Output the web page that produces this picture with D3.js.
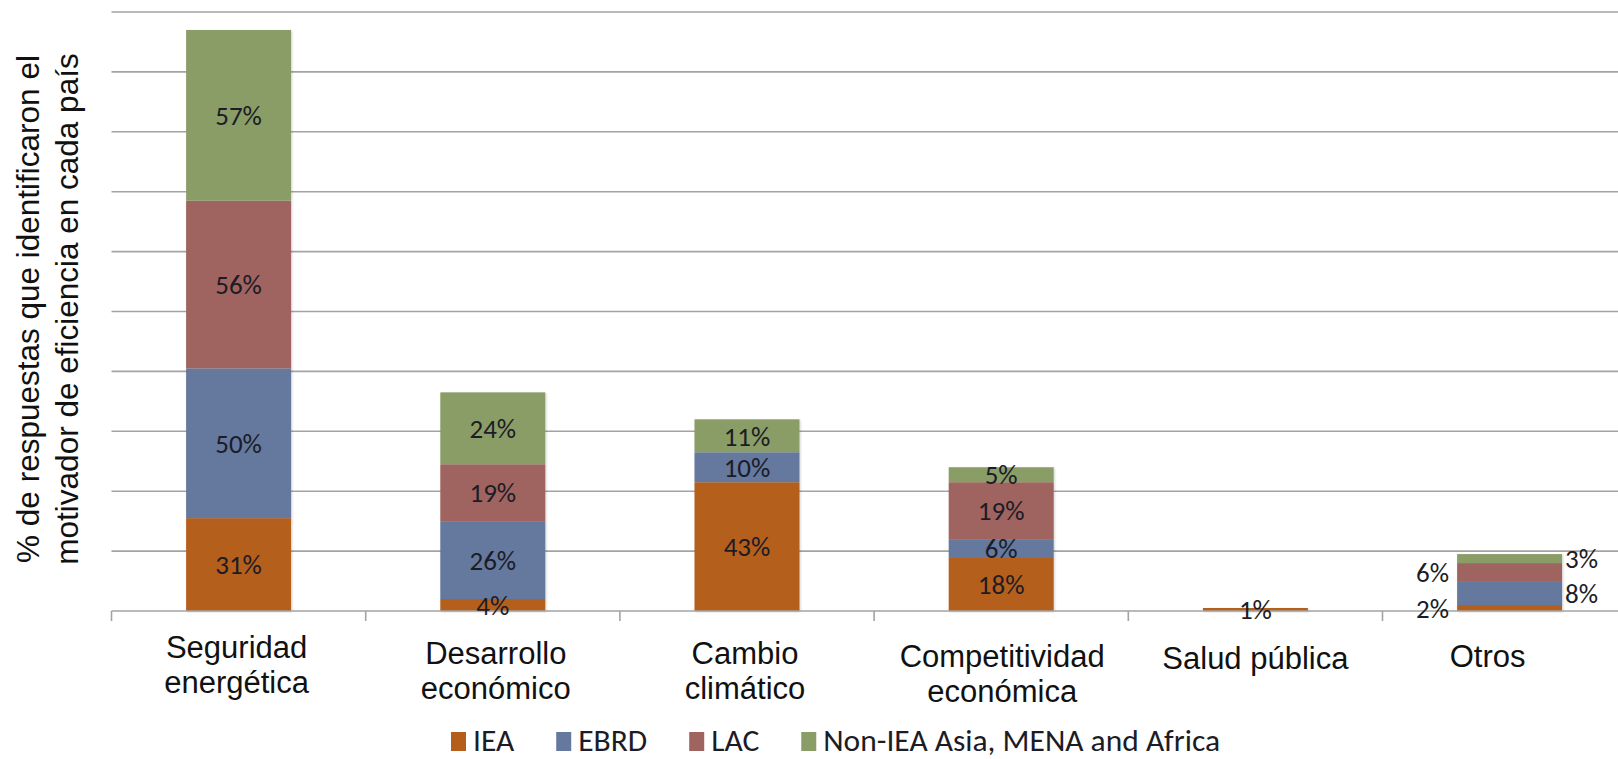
<!DOCTYPE html>
<html lang="es">
<head>
<meta charset="utf-8">
<title>Motivadores de eficiencia energética</title>
<script src="https://cdn.jsdelivr.net/npm/d3@7"></script>
<style>
  html, body { margin: 0; padding: 0; background: #fff; }
  svg { display: block; }
</style>
</head>
<body>
<svg id="chart" width="1618" height="759"></svg>
<script>
// Categories (motivators), each split into the lines shown under the axis
const categories = ["Seguridad energética", "Desarrollo económico", "Cambio climático",
                    "Competitividad económica", "Salud pública", "Otros"];
const categoryLines = [["Seguridad", "energética"], ["Desarrollo", "económico"],
                       ["Cambio", "climático"], ["Competitividad", "económica"],
                       ["Salud pública"], ["Otros"]];

// Share of responses per region group (%)
const seriesNames = ["IEA", "EBRD", "LAC", "Non-IEA Asia, MENA and Africa"];
const iea    = [31,  4, 43, 18, 1, 2];
const ebrd   = [50, 26, 10,  6, 0, 8];
const lac    = [56, 19,  0, 19, 0, 6];
const nonIea = [57, 24, 11,  5, 0, 3];

// Gridline values on the (unlabelled) value axis
const yTicks = [0, 20, 40, 60, 80, 100, 120, 140, 160, 180, 200];

// ---- styling / layout ----
const colors = ["#b55e1c", "#65789e", "#9f6460", "#8a9d66"];
const labelFont = "Carlito, Lato, 'Open Sans', sans-serif";
const axisFont = "'Liberation Sans', Arial, sans-serif";
const catLabelShift = [  // dx, dy of each category label below the baseline
  [-2, 47], [3, 53], [-2, 53], [1, 56], [0, 58], [-22, 56]
];

const svg = d3.select("#chart");
const W = 1618, H = 759;
const x0 = 111.5, x1 = 1636.7, yTop = 12, yBase = 611;

const rows = categories.map((c, i) => ({
  cat: c, "IEA": iea[i], "EBRD": ebrd[i], "LAC": lac[i],
  "Non-IEA Asia, MENA and Africa": nonIea[i]
}));

const x = d3.scaleBand().domain(categories).range([x0, x1])
  .paddingInner(0.587).paddingOuter(0.587 / 2);
const y = d3.scaleLinear().domain([0, 200]).range([yBase, yTop]);
const color = d3.scaleOrdinal().domain(seriesNames).range(colors);

const stacked = d3.stack().keys(seriesNames)(rows);

// gridlines
svg.append("g")
  .selectAll("line").data(yTicks.filter(v => v > 0)).join("line")
  .attr("x1", x0).attr("x2", W)
  .attr("y1", d => y(d)).attr("y2", d => y(d))
  .attr("stroke", "#a3a3a3").attr("stroke-width", 1.6);

// soft shadow under the bars
const defs = svg.append("defs");
const f = defs.append("filter").attr("id", "shadow")
  .attr("x", "-10%").attr("y", "-10%").attr("width", "125%").attr("height", "125%");
f.append("feDropShadow").attr("dx", 1).attr("dy", 1).attr("stdDeviation", 1)
  .attr("flood-color", "#000").attr("flood-opacity", 0.18);

// stacked bars
const barsG = svg.append("g").attr("filter", "url(#shadow)");
barsG.selectAll("g").data(stacked).join("g")
  .attr("fill", d => color(d.key))
  .selectAll("rect").data(d => d.filter(s => s[1] - s[0] > 0)).join("rect")
  .attr("x", d => x(d.data.cat))
  .attr("width", x.bandwidth())
  .attr("y", d => y(d[1]))
  .attr("height", d => y(d[0]) - y(d[1]));

// category axis (baseline + tick marks between bands)
const axis = d3.axisBottom(x).tickSize(0).tickFormat("");
const axG = svg.append("g").attr("transform", `translate(0,${yBase})`).call(axis);
axG.select(".domain").attr("stroke", "#a3a3a3").attr("stroke-width", 1.6)
  .attr("d", `M${x0},0H${W}`);
const bounds = d3.range(categories.length + 1).map(i => x0 + i * x.step());
axG.selectAll(".sep").data(bounds).join("line").attr("class", "sep")
  .attr("x1", d => d).attr("x2", d => d).attr("y1", 0).attr("y2", 10)
  .attr("stroke", "#a3a3a3").attr("stroke-width", 1.6);

// category labels
const catG = svg.append("g");
categoryLines.forEach((lines, i) => {
  const cx = x(categories[i]) + x.bandwidth() / 2 + catLabelShift[i][0];
  const t = catG.append("text")
    .attr("x", cx).attr("y", yBase + catLabelShift[i][1])
    .attr("text-anchor", "middle")
    .attr("font-family", axisFont).attr("font-size", 31).attr("fill", "#111");
  lines.forEach((ln, k) => {
    t.append("tspan").attr("x", cx).attr("dy", k === 0 ? 0 : 35).text(ln);
  });
});

// value labels
const lastCat = categories[categories.length - 1];
const labG = svg.append("g").attr("font-family", labelFont).attr("font-size", 27)
  .attr("fill", "#1c1c26");
stacked.forEach((layer, si) => {
  layer.forEach(seg => {
    const v = seg[1] - seg[0];
    if (v <= 0) return;
    const cy = (y(seg[0]) + y(seg[1])) / 2;
    let lx = x(seg.data.cat) + x.bandwidth() / 2, anchor = "middle";
    if (seg.data.cat === lastCat) {
      // small stack: labels sit outside, alternating sides
      if (si % 2 === 0) { lx = x(seg.data.cat) - 8; anchor = "end"; }
      else { lx = x(seg.data.cat) + x.bandwidth() + 3; anchor = "start"; }
    }
    labG.append("text").attr("x", lx).attr("y", cy).attr("dy", "0.36em")
      .attr("text-anchor", anchor).text(v + "%");
  });
});

// y-axis title (two lines, rotated)
const yt = svg.append("text")
  .attr("transform", "translate(39,309) rotate(-90)")
  .attr("text-anchor", "middle")
  .attr("font-family", axisFont).attr("font-size", 31.5).attr("fill", "#111");
yt.append("tspan").attr("x", 0).attr("y", 0).text("% de respuestas que identificaron el");
yt.append("tspan").attr("x", 0).attr("y", 39).text("motivador de eficiencia en cada país");

// legend
const legG = svg.append("g");
let lxPos = 451;
seriesNames.forEach((name, i) => {
  legG.append("rect").attr("x", lxPos).attr("y", 732).attr("width", 15).attr("height", 19)
    .attr("fill", colors[i]);
  const t = legG.append("text")
    .attr("x", lxPos + 22).attr("y", 751)
    .attr("font-family", labelFont).attr("font-size", 31.5).attr("fill", "#1c1c26")
    .text(name);
  lxPos += 22 + t.node().getComputedTextLength() + 42;
});
</script>
</body>
</html>
